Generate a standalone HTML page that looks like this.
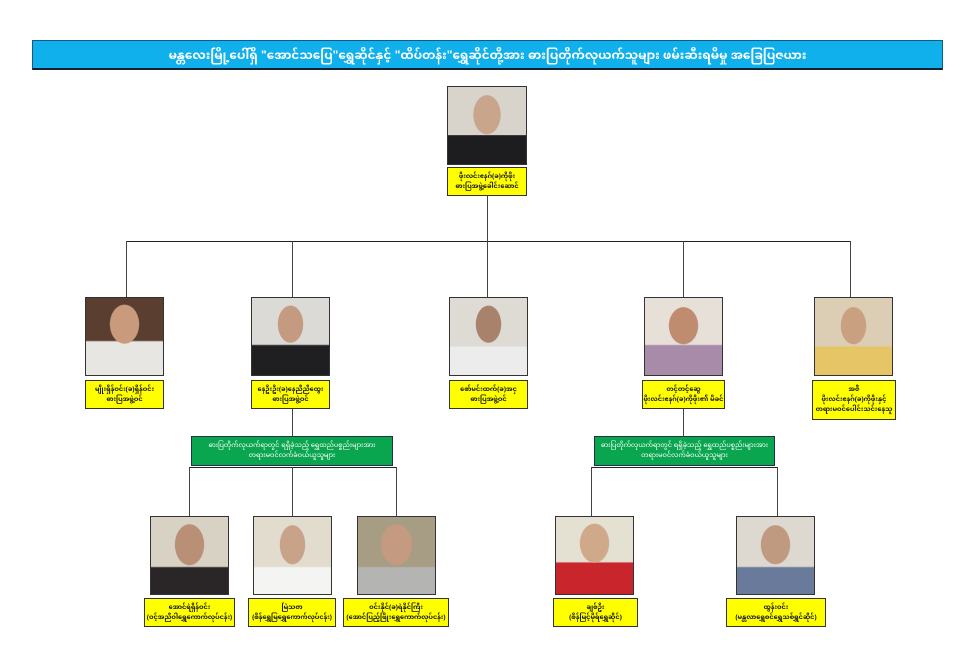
<!DOCTYPE html>
<html><head><meta charset="utf-8">
<style>
body{margin:0;width:973px;height:664px;background:#fff;position:relative;overflow:hidden;font-family:"Liberation Sans","Noto Sans Myanmar","Padauk","Myanmar Text",sans-serif;}
.a{position:absolute;box-sizing:border-box}
.title{left:32px;top:40px;width:911px;height:30px;background:#0fb0ec;border:1px solid #1a5a80;border-bottom:2px solid #123;color:#fff;font-size:12px;font-weight:bold;text-align:center;line-height:28px;}
.ph{border:1px solid #333;}
.lb{background:#ffff00;border:1px solid #333;font-size:6.5px;font-weight:bold;text-align:center;display:flex;flex-direction:column;justify-content:center;line-height:10px;color:#111}
.gr{background:#0aa64f;border:1px solid #234;color:#fff;font-size:6.5px;text-align:center;display:flex;flex-direction:column;justify-content:center;line-height:10px}
.h{height:1px;background:#222}
.v{width:1px;background:#444}
</style></head><body>
<div class="a title">မန္တလေးမြို့ပေါ်ရှိ "အောင်သပြေ"ရွှေဆိုင်နှင့် "ထိပ်တန်း"ရွှေဆိုင်တို့အား ဓားပြတိုက်လုယက်သူများ ဖမ်းဆီးရမိမှု အခြေပြဇယား</div>

<div class="a v" style="left:487px;top:196px;height:45px"></div>
<div class="a h" style="left:126px;top:241px;width:725px"></div>
<div class="a v" style="left:126px;top:241px;height:56px"></div>
<div class="a v" style="left:292px;top:241px;height:56px"></div>
<div class="a v" style="left:487px;top:241px;height:56px"></div>
<div class="a v" style="left:683px;top:241px;height:56px"></div>
<div class="a v" style="left:850px;top:241px;height:56px"></div>
<div class="a v" style="left:292px;top:409px;height:27px"></div>
<div class="a v" style="left:683px;top:409px;height:27px"></div>
<div class="a h" style="left:189px;top:467px;width:208px"></div>
<div class="a v" style="left:189px;top:467px;height:49px"></div>
<div class="a v" style="left:292px;top:467px;height:49px"></div>
<div class="a v" style="left:396px;top:467px;height:49px"></div>
<div class="a h" style="left:591px;top:467px;width:187px"></div>
<div class="a v" style="left:591px;top:467px;height:49px"></div>
<div class="a v" style="left:777px;top:467px;height:49px"></div>

<div class="a ph" style="left:447px;top:86px;width:80px;height:79px;background:radial-gradient(ellipse 14px 20px at 50% 36%,#c9a58c 95%,transparent 100%),linear-gradient(#d8d4cc 62%,#1d1d1f 63%)"></div>
<div class="a lb" style="left:447px;top:167px;width:80px;height:29px"><div>ဖိုးလင်းဧနဂ်(ခ)ကိုဖိုး</div><div>ဓားပြအဖွဲ့ခေါင်းဆောင်</div></div>

<div class="a ph" style="left:85px;top:297px;width:79px;height:79px;background:radial-gradient(ellipse 15px 20px at 50% 34%,#c99a7c 95%,transparent 100%),linear-gradient(#5a3f30 55%,#e8e6e2 57%)"></div>
<div class="a lb" style="left:85px;top:380px;width:79px;height:29px"><div>မျိုးရှိန်ဝင်း(ခ)ရှိန်ဝင်း</div><div>ဓားပြအဖွဲ့ဝင်</div></div>
<div class="a ph" style="left:251px;top:297px;width:79px;height:79px;background:radial-gradient(ellipse 13px 19px at 50% 34%,#c49a80 95%,transparent 100%),linear-gradient(#dcdad6 60%,#1f1f22 62%)"></div>
<div class="a lb" style="left:251px;top:380px;width:79px;height:29px"><div>နေဦးဦး(ခ)နေညီညီထွေး</div><div>ဓားပြအဖွဲ့ဝင်</div></div>
<div class="a ph" style="left:449px;top:297px;width:79px;height:79px;background:radial-gradient(ellipse 13px 19px at 50% 34%,#a8826a 95%,transparent 100%),linear-gradient(#dedbd5 62%,#ececec 64%)"></div>
<div class="a lb" style="left:449px;top:380px;width:79px;height:29px"><div>စော်မင်းထက်(ခ)အငှ</div><div>ဓားပြအဖွဲ့ဝင်</div></div>
<div class="a ph" style="left:644px;top:297px;width:79px;height:79px;background:radial-gradient(ellipse 15px 19px at 50% 36%,#c08c70 95%,transparent 100%),linear-gradient(#e6e0d8 60%,#a88ba8 62%)"></div>
<div class="a lb" style="left:642px;top:380px;width:83px;height:29px"><div>တင့်တင့်ဆွေ</div><div>ဖိုးလင်းဧနဂ်(ခ)ကိုဖိုး၏ မိခင်</div></div>
<div class="a ph" style="left:814px;top:297px;width:79px;height:79px;background:radial-gradient(ellipse 13px 19px at 50% 36%,#c9a080 95%,transparent 100%),linear-gradient(#dccdb5 62%,#e6c566 64%)"></div>
<div class="a lb" style="left:812px;top:380px;width:84px;height:40px"><div>အဇီ</div><div>ဖိုးလင်းဧနဂ်(ခ)ကိုဖိုးနှင့်</div><div>တရားမဝင်ပေါင်းသင်းနေသူ</div></div>

<div class="a gr" style="left:191px;top:436px;width:202px;height:30px"><div>ဓားပြတိုက်လုယက်ရာတွင် ရရှိခဲ့သည့် ရွှေထည်ပစ္စည်းများအား</div><div>တရားမဝင်လက်ခံဝယ်ယူသူများ</div></div>
<div class="a gr" style="left:594px;top:436px;width:181px;height:30px"><div>ဓားပြတိုက်လုယက်ရာတွင် ရရှိခဲ့သည့် ရွှေထည်ပစ္စည်းများအား</div><div>တရားမဝင်လက်ခံဝယ်ယူသူများ</div></div>

<div class="a ph" style="left:150px;top:516px;width:79px;height:79px;background:radial-gradient(ellipse 15px 21px at 50% 36%,#b98f76 95%,transparent 100%),linear-gradient(#d8d2c4 64%,#2a2628 66%)"></div>
<div class="a lb" style="left:144px;top:598px;width:91px;height:29px"><div>အောင်ရဲရှိန်ဝင်း</div><div>(ဝင့်အညီဝါရွှေကောက်လုပ်ငန်း)</div></div>
<div class="a ph" style="left:253px;top:516px;width:79px;height:79px;background:radial-gradient(ellipse 13px 20px at 50% 36%,#c9a28a 95%,transparent 100%),linear-gradient(#e2dccf 64%,#f4f4f2 66%)"></div>
<div class="a lb" style="left:248px;top:598px;width:88px;height:29px"><div>မြဲသဇာ</div><div>(စိန်ရွှေမြရွှေကောက်လုပ်ငန်း)</div></div>
<div class="a ph" style="left:357px;top:516px;width:79px;height:79px;background:radial-gradient(ellipse 16px 21px at 50% 36%,#c49a80 95%,transparent 100%),linear-gradient(#a69d84 64%,#b4b4b2 66%)"></div>
<div class="a lb" style="left:343px;top:598px;width:106px;height:29px"><div>ဝင်းနိုင်(ခ)ရဲနိုင်ကြီး</div><div>(အောင်ပြည့်ဖြိုးရွှေကောက်လုပ်ငန်း)</div></div>
<div class="a ph" style="left:555px;top:516px;width:79px;height:79px;background:radial-gradient(ellipse 15px 20px at 50% 34%,#d0a88a 95%,transparent 100%),linear-gradient(#e4e0d2 58%,#c8262c 60%)"></div>
<div class="a lb" style="left:553px;top:598px;width:85px;height:29px"><div>ချစ်ဦး</div><div>(စိန်မြင့်မိုရ်ရွှေဆိုင်)</div></div>
<div class="a ph" style="left:736px;top:516px;width:79px;height:79px;background:radial-gradient(ellipse 15px 20px at 50% 36%,#c09a80 95%,transparent 100%),linear-gradient(#ddd8d0 64%,#6a7a9a 66%)"></div>
<div class="a lb" style="left:726px;top:598px;width:100px;height:29px"><div>ထွန်းဝင်း</div><div>(မန္တလာရွှေစင်ရွှေသစ်ရွှင်ဆိုင်)</div></div>
</body></html>
